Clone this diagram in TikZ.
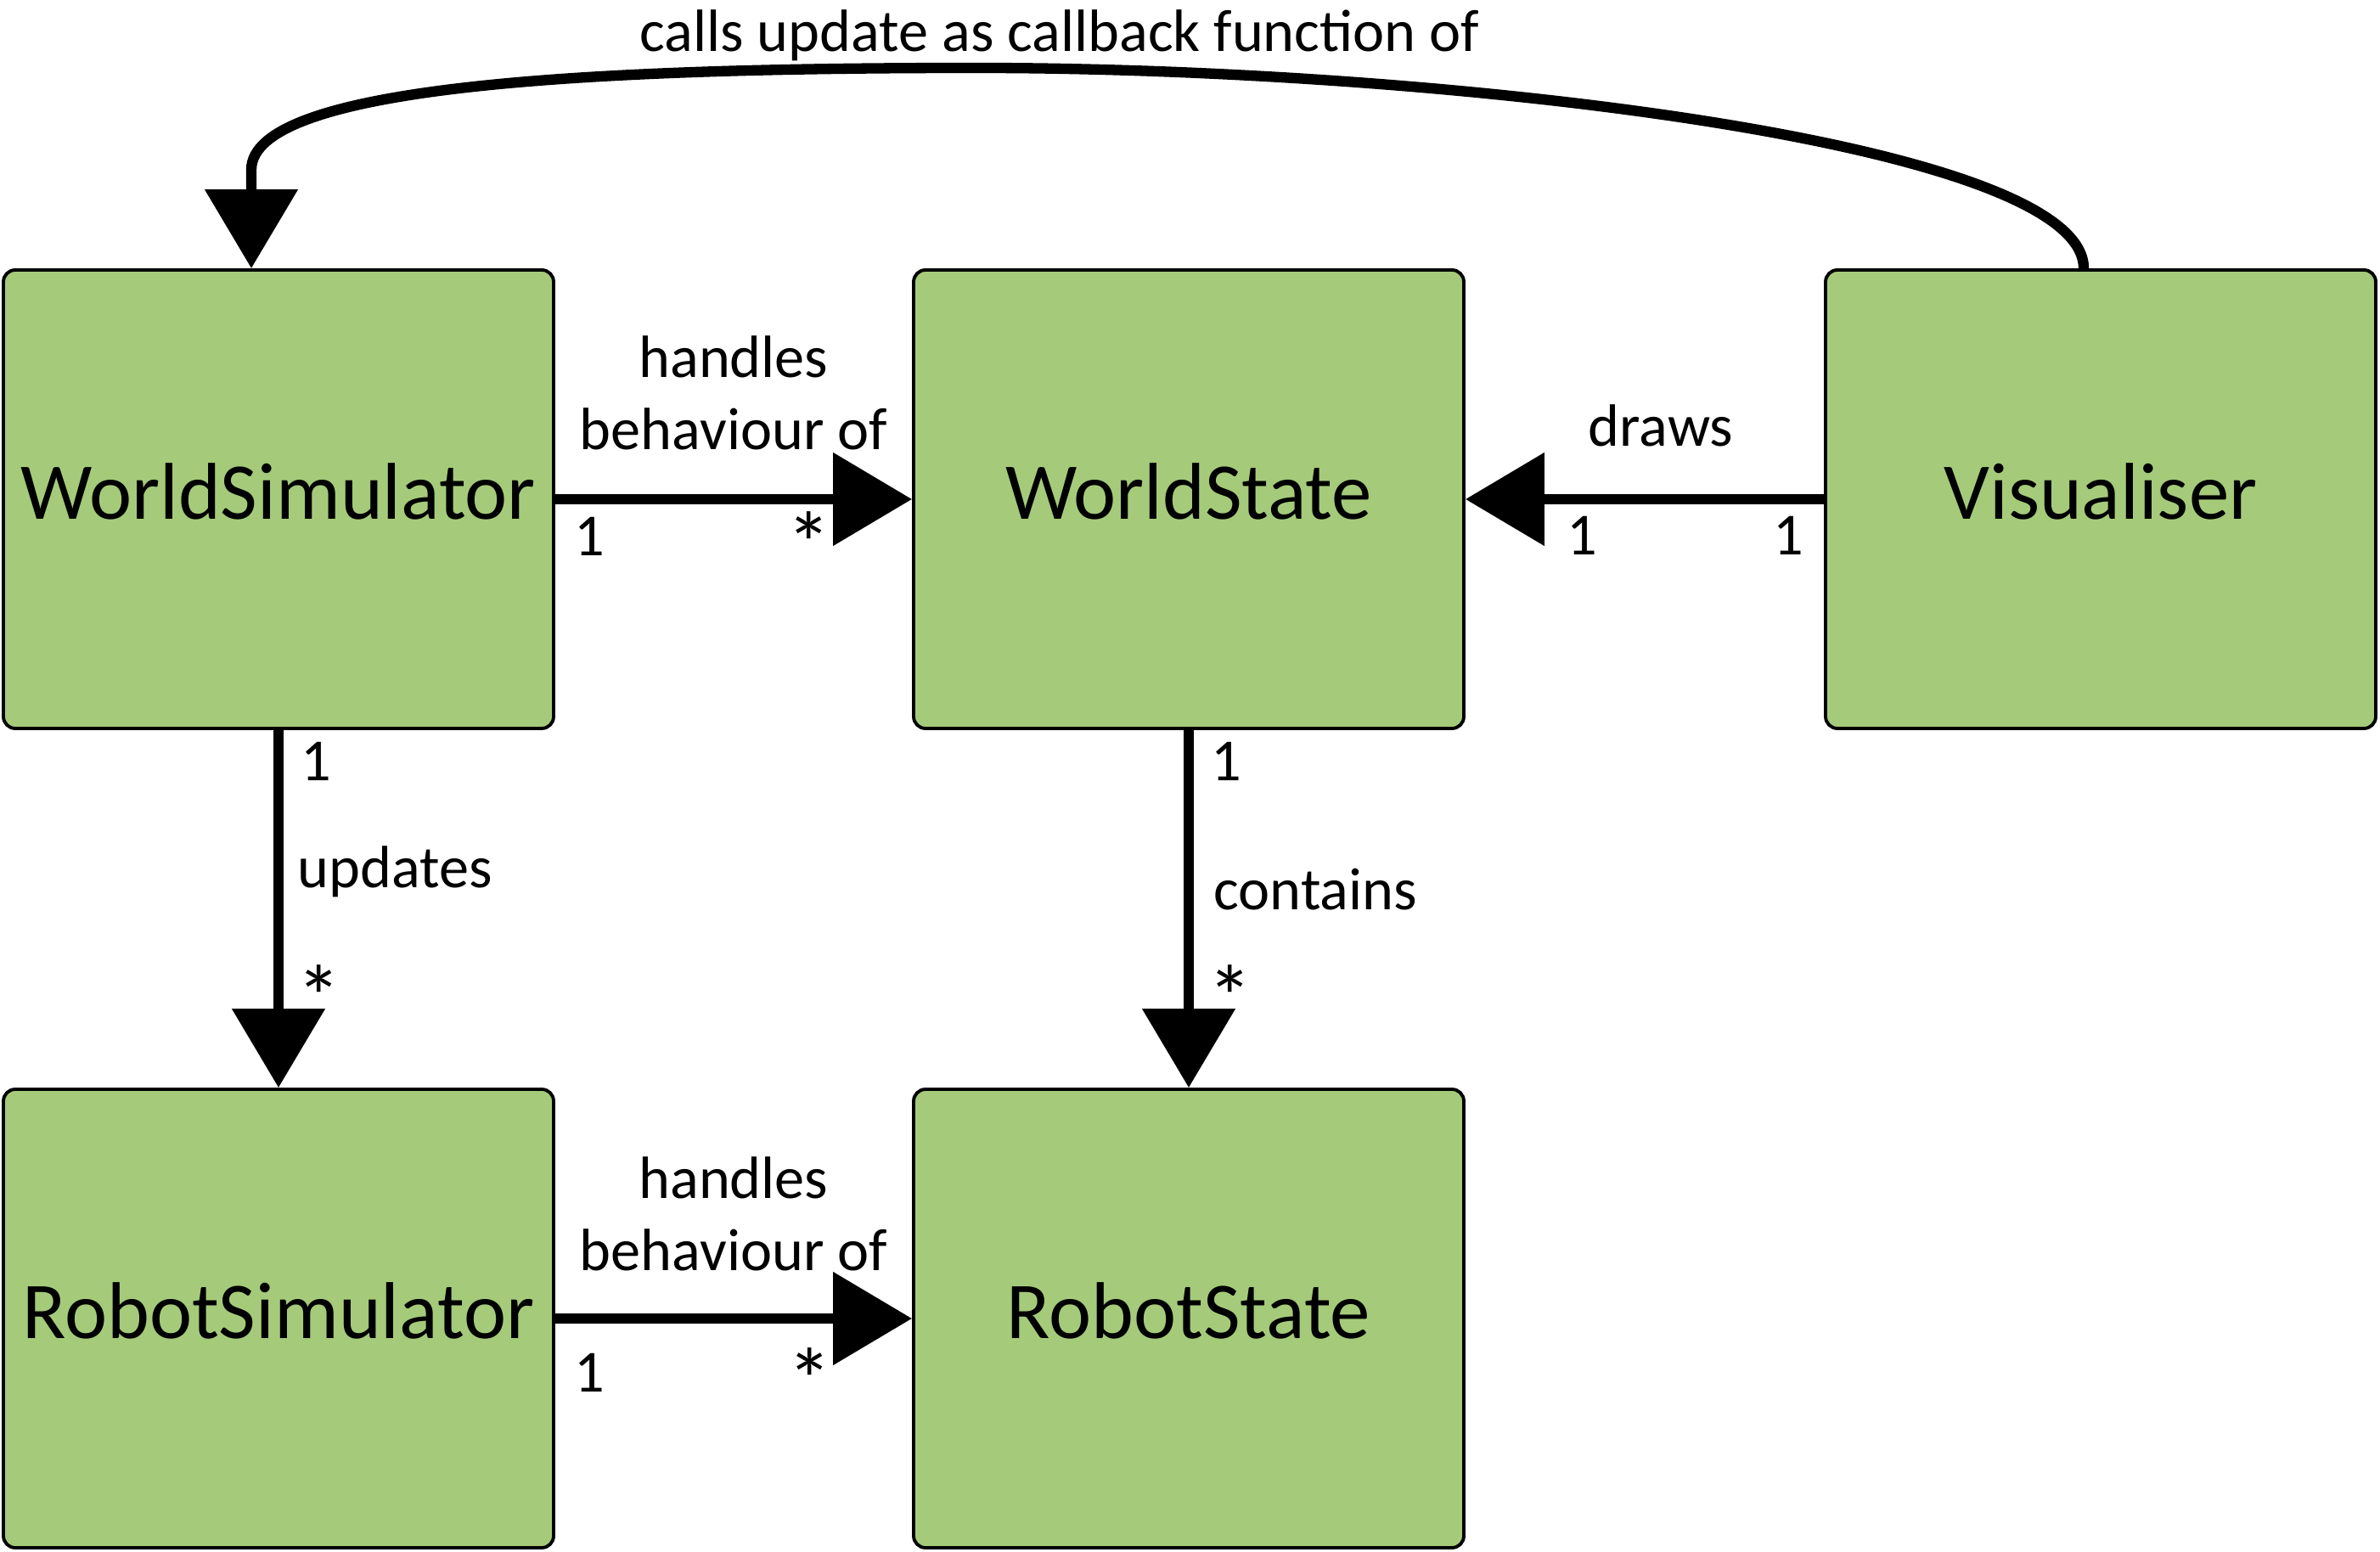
\documentclass[tikz,border=0pt]{standalone}
\usepackage{fontspec}
\usepackage{graphicx}
\setmainfont{Carlito}
\usetikzlibrary{arrows.meta}
\definecolor{boxgreen}{RGB}{165,203,122}
\newcommand{\mstar}{\scalebox{1.5}{*}}

\begin{document}
\begin{tikzpicture}[
    box/.style={draw, line width=1.1pt, fill=boxgreen, rounded corners=0.14cm,
        minimum width=6.48cm, minimum height=5.40cm, text depth=0.18cm,
        font=\fontsize{27}{32}\selectfont},
    conn/.style={line width=3.5pt, -{Triangle[length=0.93cm, width=1.07cm]}},
    lbl/.style={inner sep=0, font=\fontsize{20}{24}\selectfont, align=center},
    mult/.style={inner sep=0, font=\fontsize{20}{24}\selectfont}
]
    \useasboundingbox (0, 0) rectangle (28.03, 18.27);

    \node[box] (wsim) at (3.28, 12.39) {WorldSimulator};
    \node[box] (wst) at (14.00, 12.39) {WorldState};
    \node[box] (vis) at (24.74, 12.39) {Visualiser};
    \node[box] (rsim) at (3.28, 2.74) {RobotSimulator};
    \node[box] (rst) at (14.00, 2.74) {RobotState};

    \coordinate (apex) at (11.49, 17.47);
    \coordinate (bend) at (2.96, 16.27);

    \draw[conn] (wsim) -- node[lbl, above=0.52cm] (lhandles) {handles\\behaviour of} (wst);
    \draw[conn] (vis) -- node[lbl, above=0.56cm, xshift=0.19cm] (ldraws) {draws} (wst);
    \draw[conn] (wsim) -- (rsim);
    \draw[conn] (wst) -- (rst);
    \draw[conn] (rsim) -- node[lbl, above=0.50cm] (lhandlesr) {handles\\behaviour of} (rst);
    \draw[conn] ([xshift=-0.20cm]vis.north) .. controls +(0, 1.48) and +(5.51, 0) .. (apex)
        .. controls +(-4.49, 0) and +(0, 1.0) .. (bend) -- ([xshift=-0.32cm]wsim.north);

    \node[lbl, anchor=base] (lcalls) at (12.48, 17.66) {calls update as callback function of};

    \node[mult, anchor=base west] (m1) at ([shift={(0.22, -0.67)}]wsim.east) {1};
    \node[mult, anchor=base east] (m2) at ([shift={(-0.94, -0.90)}]wst.west) {\mstar};
    \node[mult, anchor=base west] (m3) at ([shift={(1.19, -0.66)}]wst.east) {1};
    \node[mult, anchor=base east] (m4) at ([shift={(-0.23, -0.66)}]vis.west) {1};

    \node[mult, anchor=base west] (m5) at ([shift={(0.26, -0.60)}]wsim.south) {1};
    \node[mult, anchor=base west] (lupdates) at ([shift={(0.22, -1.86)}]wsim.south) {updates};
    \node[mult, anchor=base west] (m6) at ([shift={(0.21, -3.52)}]wsim.south) {\mstar};

    \node[mult, anchor=base west] (m7) at ([shift={(0.26, -0.60)}]wst.south) {1};
    \node[mult, anchor=base west] (lcontains) at ([shift={(0.29, -2.12)}]wst.south) {contains};
    \node[mult, anchor=base west] (m8) at ([shift={(0.22, -3.52)}]wst.south) {\mstar};

    \node[mult, anchor=base west] (m9) at ([shift={(0.22, -0.87)}]rsim.east) {1};
    \node[mult, anchor=base east] (m10) at ([shift={(-0.93, -1.09)}]rst.west) {\mstar};
\end{tikzpicture}
\end{document}
